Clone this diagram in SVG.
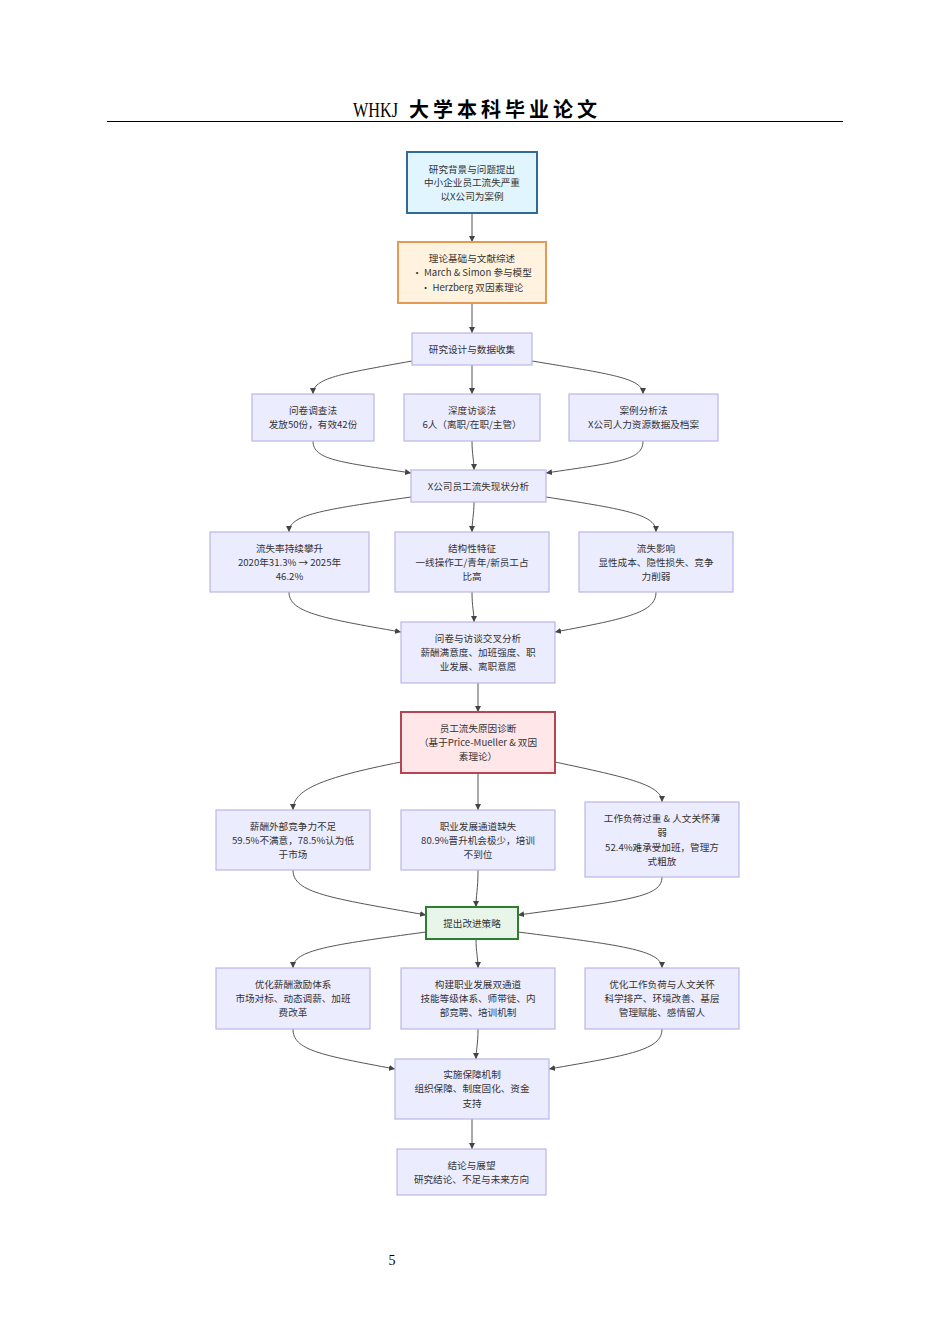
<svg xmlns="http://www.w3.org/2000/svg" width="950" height="1344" viewBox="0 0 950 1344">
<style>
.bg{fill:#ffffff}
.n{fill:#ececff;stroke:#bdb5e8;stroke-width:1.2}
.blue{fill:#e1f5fe;stroke:#2f6a98;stroke-width:2}
.orange{fill:#fff3e0;stroke:#e49a55;stroke-width:2}
.red{fill:#ffe6e8;stroke:#b54552;stroke-width:2}
.green{fill:#e8f5e9;stroke:#2e7d32;stroke-width:2}
.t{font-family:"Noto Sans CJK SC","Noto Sans",sans-serif;font-size:9.6px;fill:#333333;text-anchor:middle;dominant-baseline:central}
.e{fill:none;stroke:#555555;stroke-width:1}
.hdr{font-family:"Liberation Serif",serif;font-size:21px;fill:#000}
.hdrc{font-family:"Noto Sans CJK SC",sans-serif;font-size:20px;font-weight:700;fill:#000}
.pg{font-family:"Liberation Serif",serif;font-size:14px;fill:#000}
</style>
<defs>
<marker id="arr" markerWidth="6" markerHeight="6" refX="6" refY="3" orient="auto" markerUnits="userSpaceOnUse">
<path d="M0,0 L6,3 L0,6 z" fill="#444444"/>
</marker>
</defs>
<rect class="bg" x="0" y="0" width="950" height="1344"/>
<g id="header">
<text class="hdr" x="353" y="117" textLength="45" lengthAdjust="spacingAndGlyphs">WHKJ</text>
<text class="hdrc" x="409" y="117" textLength="188" lengthAdjust="spacing">大学本科毕业论文</text>
<line x1="107" y1="121.5" x2="843" y2="121.5" stroke="#000" stroke-width="1.2"/>
</g>
<g id="connectors">
<path class="e" marker-end="url(#arr)" d="M472,213 V242"/>
<path class="e" marker-end="url(#arr)" d="M472,303 V333"/>
<path class="e" marker-end="url(#arr)" d="M412,361 C340,374 313,378 313,394"/>
<path class="e" marker-end="url(#arr)" d="M472,365 V394"/>
<path class="e" marker-end="url(#arr)" d="M532,361 C610,374 643,378 643,394"/>
<path class="e" marker-end="url(#arr)" d="M313,441 C313,460 340,462 411,473"/>
<path class="e" marker-end="url(#arr)" d="M472,441 C472,455 474,460 474,470"/>
<path class="e" marker-end="url(#arr)" d="M643,441 C643,460 620,462 546,473"/>
<path class="e" marker-end="url(#arr)" d="M411,497 C320,510 289,515 289,532"/>
<path class="e" marker-end="url(#arr)" d="M474,502 C474,515 472,520 472,532"/>
<path class="e" marker-end="url(#arr)" d="M546,497 C630,510 656,515 656,532"/>
<path class="e" marker-end="url(#arr)" d="M289,592 C289,612 320,618 401,632"/>
<path class="e" marker-end="url(#arr)" d="M472,592 C472,607 474,612 474,622"/>
<path class="e" marker-end="url(#arr)" d="M656,592 C656,612 630,618 555,632"/>
<path class="e" marker-end="url(#arr)" d="M478,683 V712"/>
<path class="e" marker-end="url(#arr)" d="M401,762 C320,778 293,790 293,810"/>
<path class="e" marker-end="url(#arr)" d="M478,773 V810"/>
<path class="e" marker-end="url(#arr)" d="M555,762 C630,778 662,785 662,802"/>
<path class="e" marker-end="url(#arr)" d="M293,870 C293,893 330,898 426,915"/>
<path class="e" marker-end="url(#arr)" d="M478,870 C478,890 476,895 476,907"/>
<path class="e" marker-end="url(#arr)" d="M662,877 C662,897 630,900 518,915"/>
<path class="e" marker-end="url(#arr)" d="M426,932 C330,945 293,950 293,968"/>
<path class="e" marker-end="url(#arr)" d="M476,939 C476,952 478,958 478,968"/>
<path class="e" marker-end="url(#arr)" d="M518,932 C620,945 662,950 662,968"/>
<path class="e" marker-end="url(#arr)" d="M293,1029 C293,1050 320,1055 395,1069"/>
<path class="e" marker-end="url(#arr)" d="M478,1029 C478,1045 476,1050 476,1059"/>
<path class="e" marker-end="url(#arr)" d="M662,1029 C662,1050 630,1055 549,1069"/>
<path class="e" marker-end="url(#arr)" d="M472,1119 V1149"/>
</g>
<g id="n1"><rect class="blue" x="407" y="152" width="130" height="61"/>
<text class="t" x="472" y="169">研究背景与问题提出</text><text class="t" x="472" y="182">中小企业员工流失严重</text><text class="t" x="472" y="196">以X公司为案例</text></g>
<g id="n2"><rect class="orange" x="398" y="242" width="148" height="61"/>
<text class="t" x="472" y="258">理论基础与文献综述</text><text class="t" x="472" y="272">• March &amp; Simon 参与模型</text><text class="t" x="472" y="287">• Herzberg 双因素理论</text></g>
<g id="n3"><rect class="n" x="412" y="333" width="120" height="32"/>
<text class="t" x="472" y="349">研究设计与数据收集</text></g>
<g id="n4"><rect class="n" x="252" y="394" width="122" height="47"/>
<text class="t" x="313" y="410">问卷调查法</text><text class="t" x="313" y="424">发放50份，有效42份</text></g>
<g id="n5"><rect class="n" x="404" y="394" width="136" height="47"/>
<text class="t" x="472" y="410">深度访谈法</text><text class="t" x="472" y="424">6人（离职/在职/主管）</text></g>
<g id="n6"><rect class="n" x="569" y="394" width="149" height="47"/>
<text class="t" x="643.5" y="410">案例分析法</text><text class="t" x="643.5" y="424">X公司人力资源数据及档案</text></g>
<g id="n7"><rect class="n" x="411" y="470" width="135" height="32"/>
<text class="t" x="478.5" y="486">X公司员工流失现状分析</text></g>
<g id="n8"><rect class="n" x="210" y="532" width="159" height="60"/>
<text class="t" x="289.5" y="548">流失率持续攀升</text><text class="t" x="289.5" y="562">2020年31.3% → 2025年</text><text class="t" x="289.5" y="576">46.2%</text></g>
<g id="n9"><rect class="n" x="395" y="532" width="154" height="60"/>
<text class="t" x="472" y="548">结构性特征</text><text class="t" x="472" y="562">一线操作工/青年/新员工占</text><text class="t" x="472" y="576">比高</text></g>
<g id="n10"><rect class="n" x="579" y="532" width="154" height="60"/>
<text class="t" x="656" y="548">流失影响</text><text class="t" x="656" y="562">显性成本、隐性损失、竞争</text><text class="t" x="656" y="576">力削弱</text></g>
<g id="n11"><rect class="n" x="401" y="622" width="154" height="61"/>
<text class="t" x="478" y="638">问卷与访谈交叉分析</text><text class="t" x="478" y="652">薪酬满意度、加班强度、职</text><text class="t" x="478" y="666">业发展、离职意愿</text></g>
<g id="n12"><rect class="red" x="401" y="712" width="154" height="61"/>
<text class="t" x="478" y="728">员工流失原因诊断</text><text class="t" x="478" y="742">（基于Price-Mueller &amp; 双因</text><text class="t" x="478" y="756">素理论）</text></g>
<g id="n13"><rect class="n" x="216" y="810" width="154" height="60"/>
<text class="t" x="293" y="826">薪酬外部竞争力不足</text><text class="t" x="293" y="840">59.5%不满意，78.5%认为低</text><text class="t" x="293" y="854">于市场</text></g>
<g id="n14"><rect class="n" x="401" y="810" width="154" height="60"/>
<text class="t" x="478" y="826">职业发展通道缺失</text><text class="t" x="478" y="840">80.9%晋升机会极少，培训</text><text class="t" x="478" y="854">不到位</text></g>
<g id="n15"><rect class="n" x="585" y="802" width="154" height="75"/>
<text class="t" x="662" y="818">工作负荷过重 &amp; 人文关怀薄</text><text class="t" x="662" y="832">弱</text><text class="t" x="662" y="847">52.4%难承受加班，管理方</text><text class="t" x="662" y="861">式粗放</text></g>
<g id="n16"><rect class="green" x="426" y="907" width="92" height="32"/>
<text class="t" x="472" y="923">提出改进策略</text></g>
<g id="n17"><rect class="n" x="216" y="968" width="154" height="61"/>
<text class="t" x="293" y="984">优化薪酬激励体系</text><text class="t" x="293" y="998">市场对标、动态调薪、加班</text><text class="t" x="293" y="1012">费改革</text></g>
<g id="n18"><rect class="n" x="401" y="968" width="154" height="61"/>
<text class="t" x="478" y="984">构建职业发展双通道</text><text class="t" x="478" y="998">技能等级体系、师带徒、内</text><text class="t" x="478" y="1012">部竞聘、培训机制</text></g>
<g id="n19"><rect class="n" x="585" y="968" width="154" height="61"/>
<text class="t" x="662" y="984">优化工作负荷与人文关怀</text><text class="t" x="662" y="998">科学排产、环境改善、基层</text><text class="t" x="662" y="1012">管理赋能、感情留人</text></g>
<g id="n20"><rect class="n" x="395" y="1059" width="154" height="60"/>
<text class="t" x="472" y="1074">实施保障机制</text><text class="t" x="472" y="1088">组织保障、制度固化、资金</text><text class="t" x="472" y="1103">支持</text></g>
<g id="n21"><rect class="n" x="397" y="1149" width="149" height="46"/>
<text class="t" x="471.5" y="1165">结论与展望</text><text class="t" x="471.5" y="1179">研究结论、不足与未来方向</text></g>
<g id="footer"><text class="pg" x="392" y="1265" text-anchor="middle">5</text></g>
</svg>
